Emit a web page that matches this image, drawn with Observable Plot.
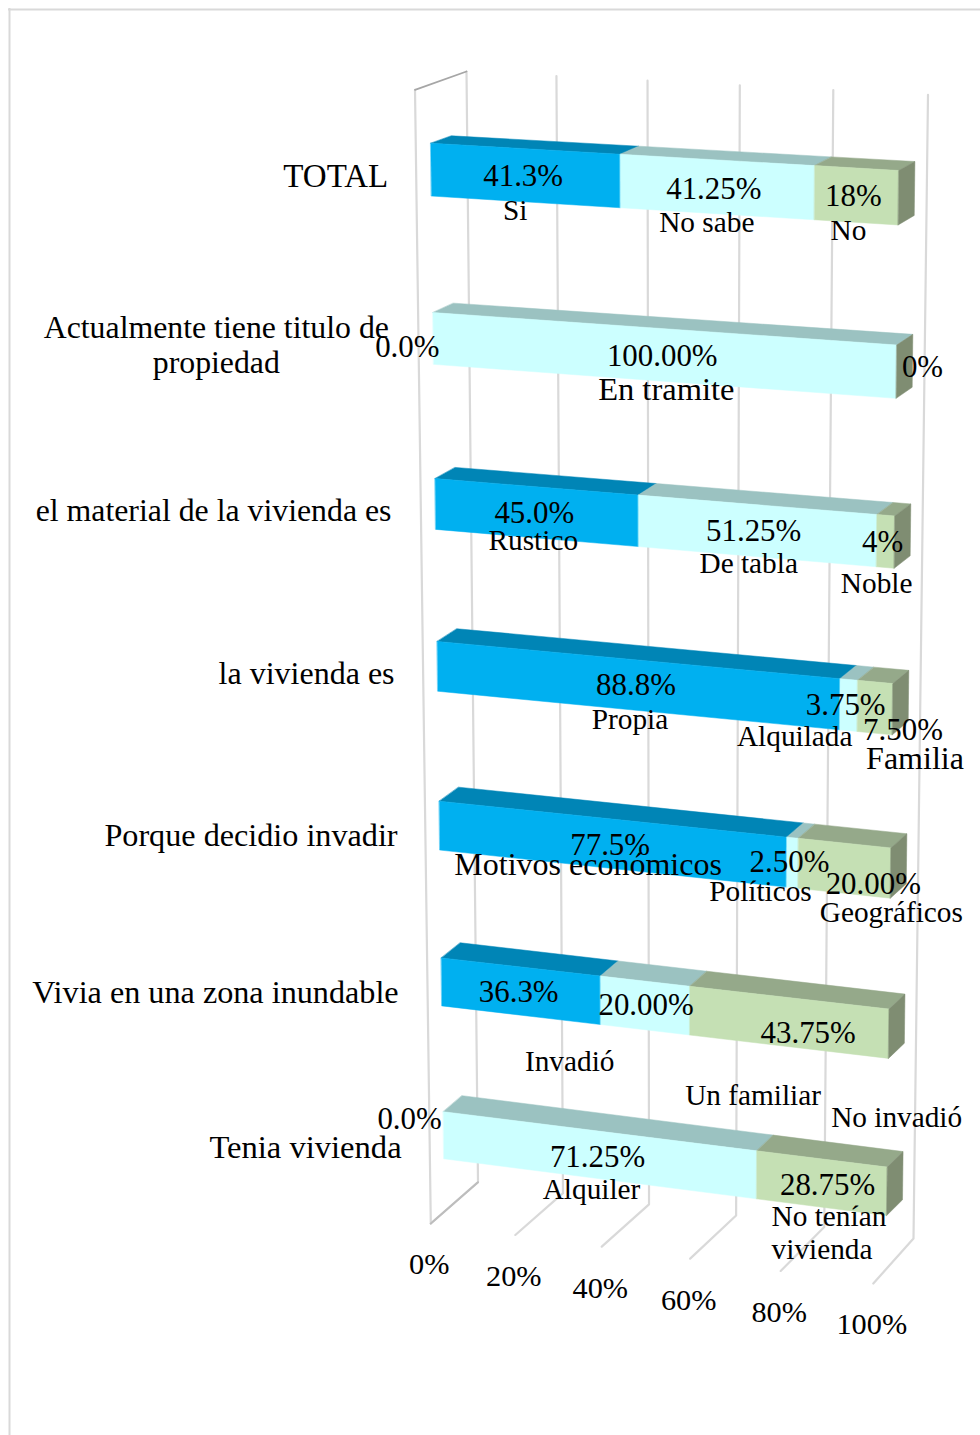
<!DOCTYPE html>
<html lang="es">
<head>
<meta charset="utf-8">
<title>Vivienda</title>
<script src="https://cdn.jsdelivr.net/npm/d3@7"></script>
<script src="https://cdn.jsdelivr.net/npm/@observablehq/plot@0.6"></script>
<style>
html,body{margin:0;padding:0;background:#fff}
svg{display:block}
</style>
</head>
<body>
<div id="chart"></div>
<script>
// ---------- data ----------
const categories = ["TOTAL","Actualmente tiene titulo de\npropiedad","el material de la vivienda es","la vivienda es","Porque decidio invadir","Vivia en una zona inundable","Tenia vivienda"];
const series1 = [41.25, 0, 45, 88.75, 77.5, 36.25, 0];
const series2 = [41.25, 100, 51.25, 3.75, 2.5, 20, 71.25];
const series3 = [17.5, 0, 3.75, 7.5, 20, 43.75, 28.75];
const valueLabels = [
  ["41.3%","41.25%","18%"],["0.0%","100.00%","0%"],["45.0%","51.25%","4%"],
  ["88.8%","3.75%","7.50%"],["77.5%","2.50%","20.00%"],["36.3%","20.00%","43.75%"],["0.0%","71.25%","28.75%"]
];
const nameLabels = [
  ["Si","No sabe","No"],["","En tramite",""],["Rustico","De tabla","Noble"],
  ["Propia","Alquilada","Familia"],["Motivos económicos","Políticos","Geográficos"],
  ["Invadió","Un familiar","No invadió"],["","Alquiler","No tenían\nvivienda"]
];
const ticks = [0,20,40,60,80,100];
const tickLabels = ["0%","20%","40%","60%","80%","100%"];

// ---------- layout (label offsets from each segment's centre) ----------
const valueNudge = [
  [[-2,-0.5],[-3,0.5],[-3,0]],[[-26,7],[1,-0.5],[26,-6]],[[-2,-1],[-3,-1],[-3,-0.5]],
  [[0,-1],[-3,-1.5],[28,21]],[[-1,0.5],[-3,-1.5],[29,14.5]],[[-2,0],[1,-1.5],[19.5,10]],[[-34,-17.5],[-1,1],[6,0.5]]
];
const nameNudge = [
  [[-10,34],[-10,34.5],[-8,34.5]],[[0,0],[5,33.5],[0,0]],[[-3,27],[-8,32],[-9,40.5]],
  [[-6,33.5],[-54,30],[40,50]],[[-23,20],[-32,28],[47,43.5]],[[49,69.5],[108,89],[108,94.5]],[[0,0],[-7,33.5],[-50,48.5]]
];
const categoryNudge = [[-43,5],[-217,5.5],[-44,5.5],[-43,6.5],[-42,8.5],[-43,9],[-42,11]];
const categorySizes = [33,31.8,31.8,32,32.2,32.2,32.6];
const barBand = 0.31, lastU = 6 + barBand, bowing = 0.006;

// Perspective: a homography from the unit square to a quad (p00,p10,p11,p01)
function quad(p00,p10,p11,p01){
  const [x0,y0]=p00,[x1,y1]=p10,[x2,y2]=p11,[x3,y3]=p01;
  const sx=x0-x1+x2-x3, sy=y0-y1+y2-y3, dx1=x1-x2, dx2=x3-x2, dy1=y1-y2, dy2=y3-y2;
  const den=dx1*dy2-dy1*dx2, g=(sx*dy2-sy*dx2)/den, h=(dx1*sy-dy1*sx)/den;
  const a=x1-x0+g*x1,b=x3-x0+h*x3,d=y1-y0+g*y1,e=y3-y0+h*y3;
  return (s,t)=>{const w=g*s+h*t+1;return [(a*s+b*t+x0)/w,(d*s+e*t+y0)/w];};
}
const frontPlane = quad([430.3,142.7],[898.3,170],[886.2,1215],[443.4,1158.3]);
const backPlane  = quad([451,135.3],[914.4,161],[902,1199.3],[462,1142]);
const wallPlane  = quad([466,71],[927.5,94.3],[913,1238],[477.5,1181.7]);
const floorPlane = quad([477.5,1181.7],[913,1238],[872.8,1283],[430.3,1223]);
const rowT = u => { const t=u/lastU; return t+bowing*t*(1-t); };
const front=(v,u)=>frontPlane(v/100,rowT(u)), back=(v,u)=>backPlane(v/100,rowT(u));

// ---------- geometry built from the data ----------
const frontColors=["#00B0F0","#CCFFFF","#C5E0B4"], topColors=["#0085B6","#9BC2C1","#95A98A"], sideColor="#7F8D72";
const faces=[], texts=[];
function face(id,color,pts){pts.forEach(([x,y])=>faces.push({id,color,x,y}));}
categories.forEach((cat,r)=>{
  const vals=[series1[r],series2[r],series3[r]];
  let c=0;
  const parts=vals.map(v=>{const p=[c,c+v];c+=v;return p;});
  parts.forEach(([a,b],i)=>{
    if(b<=a) return;
    face(`t${r}${i}`,topColors[i],[front(a,r),front(b,r),back(b,r),back(a,r)]);
  });
  parts.forEach(([a,b],i)=>{
    if(b<=a) return;
    face(`f${r}${i}`,frontColors[i],[front(a,r),front(b,r),front(b,r+barBand),front(a,r+barBand)]);
  });
  face(`s${r}`,sideColor,[front(100,r),back(100,r),back(100,r+barBand),front(100,r+barBand)]);
  parts.forEach(([a,b],i)=>{
    const [x,y]=front((a+b)/2,r+barBand/2);
    const [vx,vy]=valueNudge[r][i],[nx,ny]=nameNudge[r][i];
    texts.push({text:valueLabels[r][i],x:x+vx,y:y+vy,size:30.9,anchor:"middle"});
    if(nameLabels[r][i]) texts.push({
      text:nameLabels[r][i],x:x+nx,y:y+ny,
      size:nameLabels[r][i]==="En tramite"?32.5:["Familia","Motivos económicos"].includes(nameLabels[r][i])?32:29.3,
      anchor:nameLabels[r][i].includes("\n")?"start":"middle"});
  });
  const [lx,ly]=front(0,r+barBand/2);
  texts.push({text:cat,x:lx+categoryNudge[r][0],y:ly+categoryNudge[r][1],size:categorySizes[r],anchor:cat.includes("\n")?"middle":"end"});
});
const grid=[];
ticks.forEach((t,i)=>{
  [wallPlane(t/100,0),wallPlane(t/100,1),floorPlane(t/100,1)].forEach(([x,y])=>grid.push({t,x,y}));
  const [fx,fy]=floorPlane(t/100,1);
  texts.push({text:tickLabels[i],x:fx-1.5,y:fy+40,size:30.3,anchor:"middle"});
});
const leftEdge=[wallPlane(0,0),[414.5,89.3]].map(([x,y])=>({x,y}));
const frontEdge=[[414.5,89.3],floorPlane(0,1)].map(([x,y])=>({x,y}));
const floorEdge=[wallPlane(0,1),floorPlane(0,1)].map(([x,y])=>({x,y}));

const textMark=a=>Plot.text(texts.filter(d=>d.anchor===a),{
  x:"x",y:"y",text:"text",fontSize:"size",textAnchor:a,lineAnchor:"middle",lineHeight:1.13,fill:"#000"});

const chart=Plot.plot({
  width:980,height:1435,margin:0,
  x:{domain:[0,980],range:[0,980],axis:null},
  y:{domain:[0,1435],range:[0,1435],axis:null},
  style:{background:"#fff",fontFamily:"'Liberation Serif','Times New Roman',serif",color:"#000"},
  marks:[
    Plot.ruleX([9],{y1:8,y2:1435,stroke:"#d9d9d9",strokeWidth:2}),
    Plot.ruleY([9],{x1:8,x2:980,stroke:"#d9d9d9",strokeWidth:2}),
    Plot.line(grid,{x:"x",y:"y",z:"t",stroke:"#d9d9d9",strokeWidth:2.2}),
    Plot.line(frontEdge,{x:"x",y:"y",stroke:"#d9d9d9",strokeWidth:2.2}),
    Plot.line(floorEdge,{x:"x",y:"y",stroke:"#bdbdbd",strokeWidth:2}),
    Plot.line(leftEdge,{x:"x",y:"y",stroke:"#a6a6a6",strokeWidth:1.8}),
    Plot.line(faces,{x:"x",y:"y",z:"id",fill:"color",stroke:"color",strokeWidth:0.5,curve:"linear-closed"}),
    textMark("end"),textMark("middle"),textMark("start")
  ]
});
document.getElementById("chart").append(chart);
</script>
</body>
</html>
